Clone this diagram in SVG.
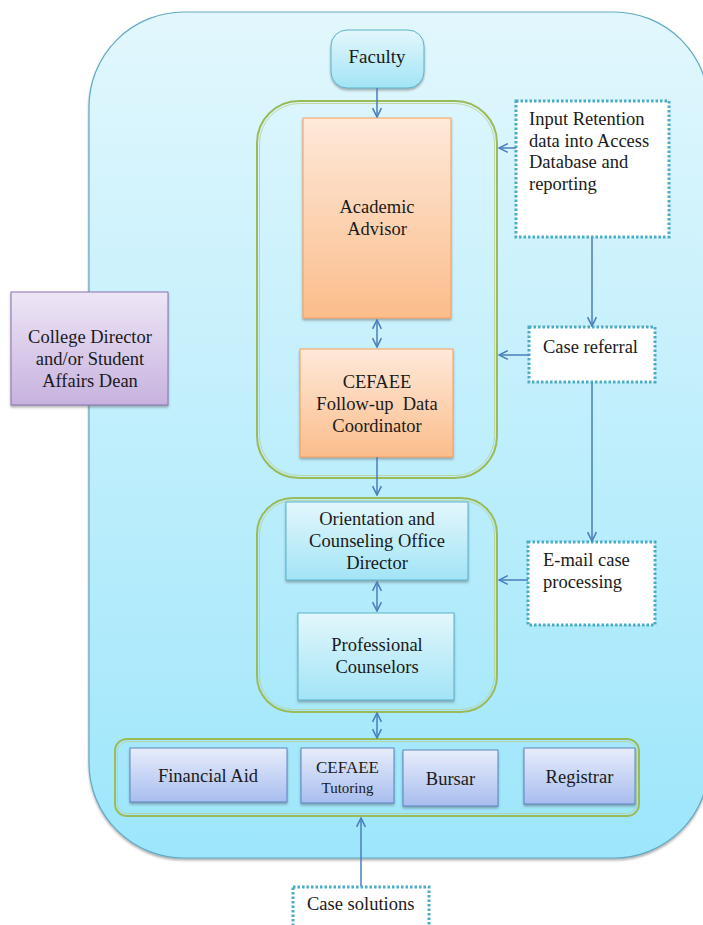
<svg xmlns="http://www.w3.org/2000/svg" width="703" height="925" viewBox="0 0 703 925">
<defs>
<linearGradient id="gBg" x1="0" y1="0" x2="0" y2="1"><stop offset="0" stop-color="#e2f7fd"/><stop offset="1" stop-color="#9de6fb"/></linearGradient>
<linearGradient id="gCyan" x1="0" y1="0" x2="0" y2="1"><stop offset="0" stop-color="#e3f7fc"/><stop offset="1" stop-color="#a2e4f6"/></linearGradient>
<linearGradient id="gOrange" x1="0" y1="0" x2="0" y2="1"><stop offset="0" stop-color="#fee9da"/><stop offset="1" stop-color="#fbbd8b"/></linearGradient>
<linearGradient id="gPurple" x1="0" y1="0" x2="0" y2="1"><stop offset="0" stop-color="#eee6f6"/><stop offset="1" stop-color="#c7b2df"/></linearGradient>
<linearGradient id="gLav" x1="0" y1="0" x2="0" y2="1"><stop offset="0" stop-color="#e7edfb"/><stop offset="1" stop-color="#a8bdef"/></linearGradient>
<filter id="sh" x="-10%" y="-10%" width="120%" height="125%"><feDropShadow dx="0" dy="2" stdDeviation="1" flood-color="#555" flood-opacity="0.45"/></filter>
<marker id="ah" viewBox="0 0 10 10" refX="9" refY="5" markerWidth="11" markerHeight="11" markerUnits="userSpaceOnUse" orient="auto-start-reverse"><path d="M1,1 L9,5 L1,9" fill="none" stroke="#4a7ebb" stroke-width="1.4"/></marker>
<style>
text{font-family:"Liberation Serif","Times New Roman",serif;font-size:18.5px;fill:#1a1a1a}
.c{text-anchor:middle}
.cyan{fill:url(#gCyan);stroke:#5bb3cb;stroke-width:1}
.org{fill:url(#gOrange);stroke:#f5a05e;stroke-width:1}
.lav{fill:url(#gLav);stroke:#5a86c2;stroke-width:1}
.grp{fill:none;stroke:#9bbb59;stroke-width:2}
.grpi{fill:none;stroke:#b9cf8f;stroke-width:0.8}
.dot{fill:#ffffff;stroke:#4bacc6;stroke-width:3;stroke-dasharray:2.5 2}
.con line{stroke:#4a7ebb;stroke-width:1.5;fill:none}
</style>
</defs>
<g id="background">
<rect x="89" y="12" width="620" height="846" rx="95" ry="95" fill="url(#gBg)" stroke="#62aac4" stroke-width="1.2" filter="url(#sh)"/>
</g>
<g id="group-advisor">
<rect class="grp" x="257" y="101" width="240" height="377" rx="42"/>
<rect class="grpi" x="259.5" y="103.5" width="235" height="372" rx="40"/>
</g>
<g id="group-counseling">
<rect class="grp" x="257" y="498" width="240" height="214" rx="36"/>
<rect class="grpi" x="259.5" y="500.5" width="235" height="209" rx="34"/>
</g>
<g id="group-services">
<rect class="grp" x="115" y="739" width="524" height="77" rx="12"/>
<rect class="grpi" x="117.5" y="741.5" width="519" height="72" rx="10"/>
</g>
<g id="faculty">
<rect class="cyan" x="331" y="30" width="93" height="58" rx="16" filter="url(#sh)"/>
<text class="c" x="377" y="63" style="font-size:19px">Faculty</text>
</g>
<g id="academic-advisor">
<rect class="org" x="303" y="118" width="148" height="200" filter="url(#sh)"/>
<text class="c" x="377" y="213">Academic</text>
<text class="c" x="377" y="235">Advisor</text>
</g>
<g id="cefaee-coordinator">
<rect class="org" x="300" y="349" width="153" height="108" filter="url(#sh)"/>
<text class="c" x="377" y="388">CEFAEE</text>
<text class="c" x="377" y="410" style="white-space:pre">Follow-up  Data</text>
<text class="c" x="377" y="432">Coordinator</text>
</g>
<g id="orientation-director">
<rect class="cyan" x="286" y="502" width="182" height="78" filter="url(#sh)"/>
<text class="c" x="377" y="525">Orientation and</text>
<text class="c" x="377" y="547">Counseling Office</text>
<text class="c" x="377" y="569">Director</text>
</g>
<g id="professional-counselors">
<rect class="cyan" x="298" y="613" width="156" height="87" filter="url(#sh)"/>
<text class="c" x="377" y="651">Professional</text>
<text class="c" x="377" y="673">Counselors</text>
</g>
<g id="college-director">
<rect x="11" y="292" width="157" height="113" fill="url(#gPurple)" stroke="#8a70b0" stroke-width="1" filter="url(#sh)"/>
<text class="c" x="90" y="343">College Director</text>
<text class="c" x="90" y="365">and/or Student</text>
<text class="c" x="90" y="387">Affairs Dean</text>
</g>
<g id="input-retention">
<rect class="dot" x="516" y="101" width="153" height="136"/>
<text x="529" y="125">Input Retention</text>
<text x="529" y="147">data into Access</text>
<text x="529" y="168">Database and</text>
<text x="529" y="190">reporting</text>
</g>
<g id="case-referral">
<rect class="dot" x="529" y="327" width="126" height="55"/>
<text x="543" y="353">Case referral</text>
</g>
<g id="email-case">
<rect class="dot" x="528" y="542" width="127" height="83"/>
<text x="543" y="566">E-mail case</text>
<text x="543" y="588">processing</text>
</g>
<g id="case-solutions">
<rect class="dot" x="293" y="887" width="136" height="50"/>
<text x="307" y="910">Case solutions</text>
</g>
<g id="financial-aid">
<rect class="lav" x="130" y="748" width="157" height="54" filter="url(#sh)"/>
<text class="c" x="208" y="782">Financial Aid</text>
</g>
<g id="cefaee-tutoring">
<rect class="lav" x="301" y="748" width="93" height="55" filter="url(#sh)"/>
<text class="c" x="347.5" y="773" style="font-size:17px">CEFAEE</text>
<text class="c" x="347.5" y="793" style="font-size:15px">Tutoring</text>
</g>
<g id="bursar">
<rect class="lav" x="403" y="750" width="95" height="56" filter="url(#sh)"/>
<text class="c" x="450.5" y="785">Bursar</text>
</g>
<g id="registrar">
<rect class="lav" x="524" y="748" width="111" height="56" filter="url(#sh)"/>
<text class="c" x="579.5" y="783">Registrar</text>
</g>
<g id="connectors" class="con">
<line x1="377" y1="88" x2="377" y2="117" marker-end="url(#ah)"/>
<line x1="377" y1="320" x2="377" y2="347" marker-start="url(#ah)" marker-end="url(#ah)"/>
<line x1="377" y1="457" x2="377" y2="495" marker-end="url(#ah)"/>
<line x1="377" y1="582" x2="377" y2="611" marker-start="url(#ah)" marker-end="url(#ah)"/>
<line x1="377" y1="713" x2="377" y2="738" marker-start="url(#ah)" marker-end="url(#ah)"/>
<line x1="516" y1="148" x2="499" y2="148" marker-end="url(#ah)"/>
<line x1="592" y1="238" x2="592" y2="326" marker-end="url(#ah)"/>
<line x1="529" y1="355" x2="499" y2="355" marker-end="url(#ah)"/>
<line x1="592" y1="383" x2="592" y2="541" marker-end="url(#ah)"/>
<line x1="528" y1="580" x2="499" y2="580" marker-end="url(#ah)"/>
<line x1="361" y1="886" x2="361" y2="818" marker-end="url(#ah)"/>
</g>
</svg>
